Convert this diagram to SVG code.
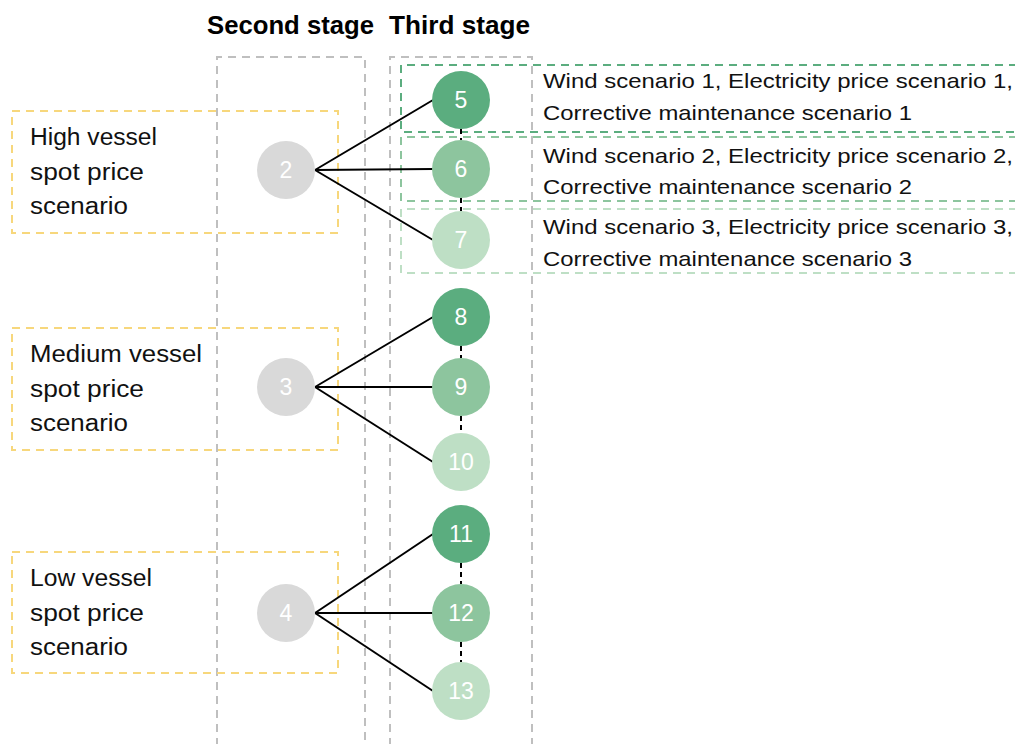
<svg xmlns="http://www.w3.org/2000/svg" width="1015" height="744" viewBox="0 0 1015 744">
  <style>
    .stage { fill: none; stroke: #BFBFBF; stroke-width: 2; stroke-dasharray: 8 6; }
    .grp { fill: none; stroke: #F7D77C; stroke-width: 2; stroke-dasharray: 8 6; }
    .scen { fill: none; stroke-width: 2; stroke-dasharray: 8 6; }
    .hdr { font-family: "Liberation Sans", Arial, sans-serif; font-weight: bold; font-size: 25px; fill: #000; }
    .lbl { font-family: "Liberation Sans", Arial, sans-serif; font-size: 23px; fill: #111; }
    .desc { font-family: "Liberation Sans", Arial, sans-serif; font-size: 21px; fill: #111; }
    .num { font-family: "Liberation Sans", Arial, sans-serif; font-size: 23px; fill: #fff; text-anchor: middle; dominant-baseline: central; }
    .edge { stroke: #000; stroke-width: 2; }
    .link { stroke: #000; stroke-width: 2; stroke-dasharray: 5 4; }
    .g0 { fill: #D9D9D9; }
    .g1 { fill: #5BAD7F; }
    .g2 { fill: #8DC59E; }
    .g3 { fill: #BEDFC5; }
  </style>

  <!-- stage headers -->
  <text class="hdr" x="207" y="34" textLength="167" lengthAdjust="spacingAndGlyphs">Second stage</text>
  <text class="hdr" x="389" y="34" textLength="141" lengthAdjust="spacingAndGlyphs">Third stage</text>

  <!-- stage columns -->
  <path class="stage" d="M217,746 V57 H365 V746"/>
  <path class="stage" d="M390,746 V57 H532 V746"/>

  <!-- scenario boxes -->
  <g id="scenario-1">
    <path class="scen" stroke="#5BAD7F" d="M1017,65 H401 V132 H1017"/>
    <text class="desc" x="543" y="88" textLength="470" lengthAdjust="spacingAndGlyphs">Wind scenario 1, Electricity price scenario 1,</text>
    <text class="desc" x="543" y="120" textLength="369" lengthAdjust="spacingAndGlyphs">Corrective maintenance scenario 1</text>
  </g>
  <g id="scenario-2">
    <path class="scen" stroke="#8DC59E" d="M1017,137 H401 V201 H1017"/>
    <text class="desc" x="543" y="163" textLength="470" lengthAdjust="spacingAndGlyphs">Wind scenario 2, Electricity price scenario 2,</text>
    <text class="desc" x="543" y="194" textLength="369" lengthAdjust="spacingAndGlyphs">Corrective maintenance scenario 2</text>
  </g>
  <g id="scenario-3">
    <path class="scen" stroke="#BEDFC5" d="M1017,209 H401 V273 H1017"/>
    <text class="desc" x="543" y="234" textLength="470" lengthAdjust="spacingAndGlyphs">Wind scenario 3, Electricity price scenario 3,</text>
    <text class="desc" x="543" y="266" textLength="369" lengthAdjust="spacingAndGlyphs">Corrective maintenance scenario 3</text>
  </g>

  <!-- vessel price groups -->
  <g id="group-high">
    <rect class="grp" x="12" y="111" width="326" height="122"/>
    <text class="lbl" x="30" y="145" textLength="127" lengthAdjust="spacingAndGlyphs">High vessel</text>
    <text class="lbl" x="30" y="180" textLength="114" lengthAdjust="spacingAndGlyphs">spot price</text>
    <text class="lbl" x="30" y="214" textLength="98" lengthAdjust="spacingAndGlyphs">scenario</text>
  </g>
  <g id="group-medium">
    <rect class="grp" x="12" y="328" width="326" height="122"/>
    <text class="lbl" x="30" y="362" textLength="172" lengthAdjust="spacingAndGlyphs">Medium vessel</text>
    <text class="lbl" x="30" y="397" textLength="114" lengthAdjust="spacingAndGlyphs">spot price</text>
    <text class="lbl" x="30" y="431" textLength="98" lengthAdjust="spacingAndGlyphs">scenario</text>
  </g>
  <g id="group-low">
    <rect class="grp" x="12" y="552" width="326" height="121"/>
    <text class="lbl" x="30" y="586" textLength="122" lengthAdjust="spacingAndGlyphs">Low vessel</text>
    <text class="lbl" x="30" y="621" textLength="114" lengthAdjust="spacingAndGlyphs">spot price</text>
    <text class="lbl" x="30" y="655" textLength="98" lengthAdjust="spacingAndGlyphs">scenario</text>
  </g>

  <!-- connectors -->
  <g id="connectors">
    <line class="edge" x1="315" y1="170" x2="433" y2="100"/>
    <line class="edge" x1="315" y1="170" x2="433" y2="169"/>
    <line class="edge" x1="315" y1="170" x2="433" y2="240"/>
    <line class="edge" x1="315" y1="387" x2="433" y2="317"/>
    <line class="edge" x1="315" y1="387" x2="433" y2="387"/>
    <line class="edge" x1="315" y1="387" x2="433" y2="462"/>
    <line class="edge" x1="315" y1="613" x2="433" y2="534"/>
    <line class="edge" x1="315" y1="613" x2="433" y2="613"/>
    <line class="edge" x1="315" y1="613" x2="433" y2="691"/>
    <line class="link" x1="461" y1="129" x2="461" y2="140"/>
    <line class="link" x1="461" y1="198" x2="461" y2="211"/>
    <line class="link" x1="461" y1="346" x2="461" y2="358"/>
    <line class="link" x1="461" y1="416" x2="461" y2="433"/>
    <line class="link" x1="461" y1="563" x2="461" y2="584"/>
    <line class="link" x1="461" y1="642" x2="461" y2="662"/>
  </g>

  <!-- second stage nodes -->
  <g id="node-2"><circle class="g0" cx="286" cy="170" r="29"/><text class="num" x="286" y="170">2</text></g>
  <g id="node-3"><circle class="g0" cx="286" cy="387" r="29"/><text class="num" x="286" y="387">3</text></g>
  <g id="node-4"><circle class="g0" cx="286" cy="613" r="29"/><text class="num" x="286" y="613">4</text></g>

  <!-- third stage nodes -->
  <g id="node-5"><circle class="g1" cx="461" cy="100" r="29"/><text class="num" x="461" y="100">5</text></g>
  <g id="node-6"><circle class="g2" cx="461" cy="169" r="29"/><text class="num" x="461" y="169">6</text></g>
  <g id="node-7"><circle class="g3" cx="461" cy="240" r="29"/><text class="num" x="461" y="240">7</text></g>
  <g id="node-8"><circle class="g1" cx="461" cy="317" r="29"/><text class="num" x="461" y="317">8</text></g>
  <g id="node-9"><circle class="g2" cx="461" cy="387" r="29"/><text class="num" x="461" y="387">9</text></g>
  <g id="node-10"><circle class="g3" cx="461" cy="462" r="29"/><text class="num" x="461" y="462">10</text></g>
  <g id="node-11"><circle class="g1" cx="461" cy="534" r="29"/><text class="num" x="461" y="534">11</text></g>
  <g id="node-12"><circle class="g2" cx="461" cy="613" r="29"/><text class="num" x="461" y="613">12</text></g>
  <g id="node-13"><circle class="g3" cx="461" cy="691" r="29"/><text class="num" x="461" y="691">13</text></g>
</svg>
